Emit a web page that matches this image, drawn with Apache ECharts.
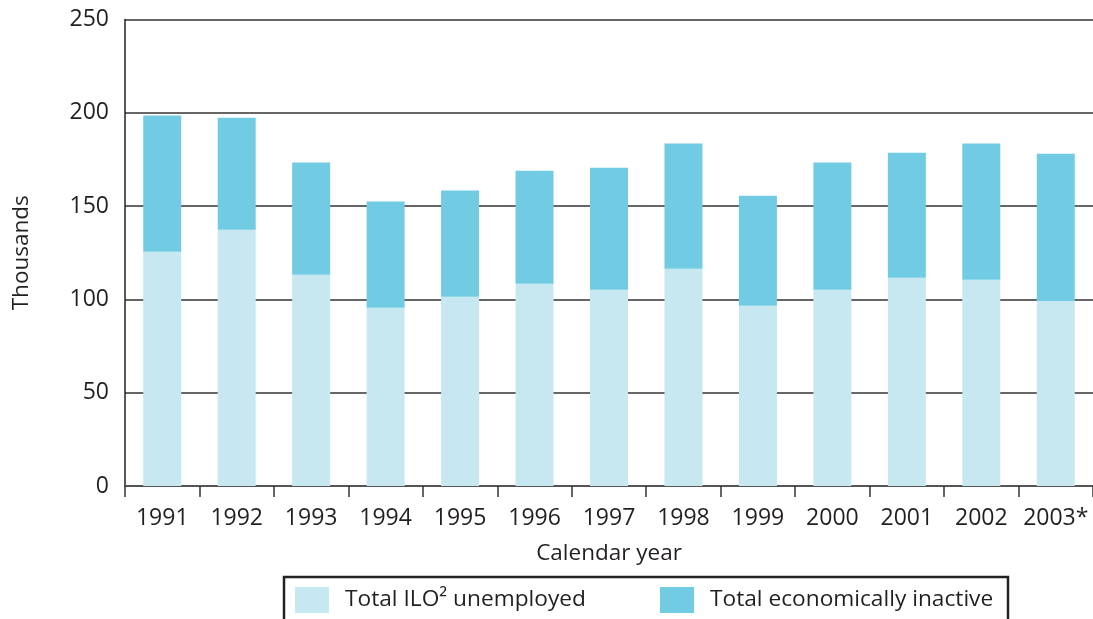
<!DOCTYPE html>
<html>
<head>
<meta charset="utf-8">
<script src="https://cdn.jsdelivr.net/npm/echarts@6/dist/echarts.min.js"></script>
<style>
  html, body { margin: 0; padding: 0; background: #fff; }
  #main { width: 1093px; height: 619px; }
</style>
</head>
<body>
<div id="main"></div>
<script>
// years on the x axis
const years = ['1991', '1992', '1993', '1994', '1995', '1996', '1997', '1998', '1999', '2000', '2001', '2002', '2003*']
// thousands
const unemployed = [125.5, 137.3, 113.2, 95.5, 101.4, 108.4, 105.2, 116.4, 96.6, 105.2, 111.6, 110.5, 99.2]
const inactive = [73.0, 60.1, 60.1, 56.9, 56.9, 60.6, 65.4, 67.1, 59.0, 68.1, 67.0, 73.0, 78.9]
const yTicks = [0, 50, 100, 150, 200, 250]

const nameUnemployed = 'Total ILO² unemployed'
const nameInactive = 'Total economically inactive'

const font = 'Open Sans'
const textColor = '#231f20'

const chart = echarts.init(document.getElementById('main'), null, { renderer: 'canvas' })

const legendCommon = {
  top: 587,
  padding: 0,
  itemWidth: 34,
  itemHeight: 26,
  icon: 'rect',
  textStyle: { fontFamily: font, fontSize: 22.7, color: textColor, padding: [0, 0, 0, 11] }
}

const option = {
  animation: false,
  textStyle: { fontFamily: font },
  grid: { left: 125, top: 19.5, bottom: 133, right: -7, containLabel: false },
  graphic: [
    {
      // legend frame, runs off the bottom edge as in the original
      type: 'rect',
      shape: { x: 284, y: 577, width: 724, height: 60 },
      style: { fill: 'none', stroke: '#222', lineWidth: 2.5 },
      z: 0
    }
  ],
  legend: [
    Object.assign({ left: 295, data: [nameUnemployed] }, legendCommon),
    Object.assign({ left: 660, data: [nameInactive] }, legendCommon)
  ],
  xAxis: {
    type: 'category',
    data: years,
    name: 'Calendar year',
    nameLocation: 'middle',
    nameGap: 56,
    nameTextStyle: { fontFamily: font, fontSize: 22.5, color: textColor },
    axisLine: { show: true, lineStyle: { color: '#555', width: 2 } },
    axisTick: { show: true, interval: 0, length: 11, lineStyle: { color: '#333', width: 1.5 } },
    axisLabel: { interval: 0, fontFamily: font, fontSize: 23, color: textColor, margin: 21 }
  },
  yAxis: {
    type: 'value',
    min: 0,
    max: yTicks[yTicks.length - 1],
    interval: yTicks[1] - yTicks[0],
    name: 'Thousands',
    nameLocation: 'middle',
    nameGap: 92,
    nameTextStyle: { fontFamily: font, fontSize: 22.5, color: textColor },
    axisLine: { show: true, lineStyle: { color: '#222', width: 1.5 } },
    axisTick: { show: false },
    axisLabel: { fontFamily: font, fontSize: 23, color: textColor, margin: 16 },
    splitLine: { show: true, lineStyle: { color: '#333', width: 1.5 } }
  },
  series: [
    {
      name: nameUnemployed,
      type: 'bar',
      stack: 'total',
      barWidth: 38,
      itemStyle: { color: '#c7e8f1' },
      data: unemployed
    },
    {
      name: nameInactive,
      type: 'bar',
      stack: 'total',
      barWidth: 38,
      itemStyle: { color: '#71cce3' },
      data: inactive
    }
  ]
}

chart.setOption(option)
</script>
</body>
</html>
